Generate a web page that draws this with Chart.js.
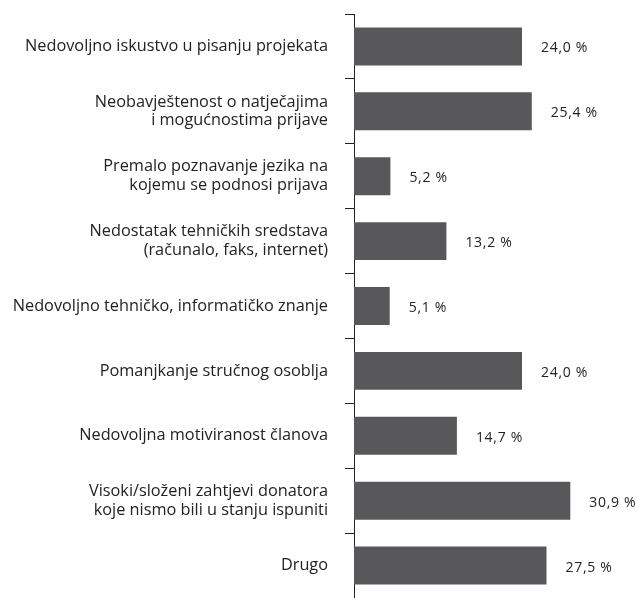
<!DOCTYPE html>
<html>
<head>
<meta charset="utf-8">
<script src="https://cdn.jsdelivr.net/npm/chart.js@4/dist/chart.umd.min.js"></script>
<style>
  html, body { margin: 0; padding: 0; background: #fff; }
  #wrap { width: 639px; height: 598px; }
</style>
</head>
<body>
<div id="wrap"><canvas id="chart"></canvas></div>
<script>
const categories = [
  ["Nedovoljno iskustvo u pisanju projekata"],
  ["Neobavještenost o natječajima", "i mogućnostima prijave"],
  ["Premalo poznavanje jezika na", "kojemu se podnosi prijava"],
  ["Nedostatak tehničkih sredstava", "(računalo, faks, internet)"],
  ["Nedovoljno tehničko, informatičko znanje"],
  ["Pomanjkanje stručnog osoblja"],
  ["Nedovoljna motiviranost članova"],
  ["Visoki/složeni zahtjevi donatora", "koje nismo bili u stanju ispuniti"],
  ["Drugo"]
];
const percents = [24.0, 25.4, 5.2, 13.2, 5.1, 24.0, 14.7, 30.9, 27.5];

// value labels to the right of each bar
const valueLabels = {
  id: "valueLabels",
  afterDatasetsDraw(chart) {
    const ctx = chart.ctx;
    const meta = chart.getDatasetMeta(0);
    ctx.save();
    ctx.font = "14px 'Open Sans'";
    ctx.letterSpacing = "0.7px";
    ctx.fillStyle = "#222";
    ctx.textBaseline = "middle";
    meta.data.forEach((bar, i) => {
      const txt = percents[i].toFixed(1).replace(".", ",") + " %";
      ctx.fillText(txt, bar.x + 19, bar.y + 2);
    });
    ctx.restore();
  }
};

new Chart(document.getElementById("chart"), {
  type: "bar",
  data: {
    labels: categories,
    datasets: [{
      data: percents,
      backgroundColor: "#58585a",
      categoryPercentage: 1,
      barPercentage: 0.585
    }]
  },
  options: {
    indexAxis: "y",
    animation: false,
    responsive: true,
    maintainAspectRatio: false,
    layout: { padding: { top: 14, bottom: 0, left: 0, right: 5 } },
    plugins: { legend: { display: false }, tooltip: { enabled: false } },
    scales: {
      x: { display: false, min: 0, max: 40 },
      y: {
        afterFit(scale) {
          scale.width = 354;
          scale.paddingTop = 0;
          scale.paddingBottom = 0;
        },
        border: { display: true, color: "#222", width: 1 },
        grid: {
          offset: true,
          drawOnChartArea: false,
          drawTicks: true,
          tickLength: 9,
          color: "#222"
        },
        ticks: {
          padding: 17,
          color: "#222",
          font: { family: "'Open Sans'", size: 16.3, lineHeight: 1.15 },
          crossAlign: "near"
        }
      }
    }
  },
  plugins: [valueLabels]
});
</script>
</body>
</html>
